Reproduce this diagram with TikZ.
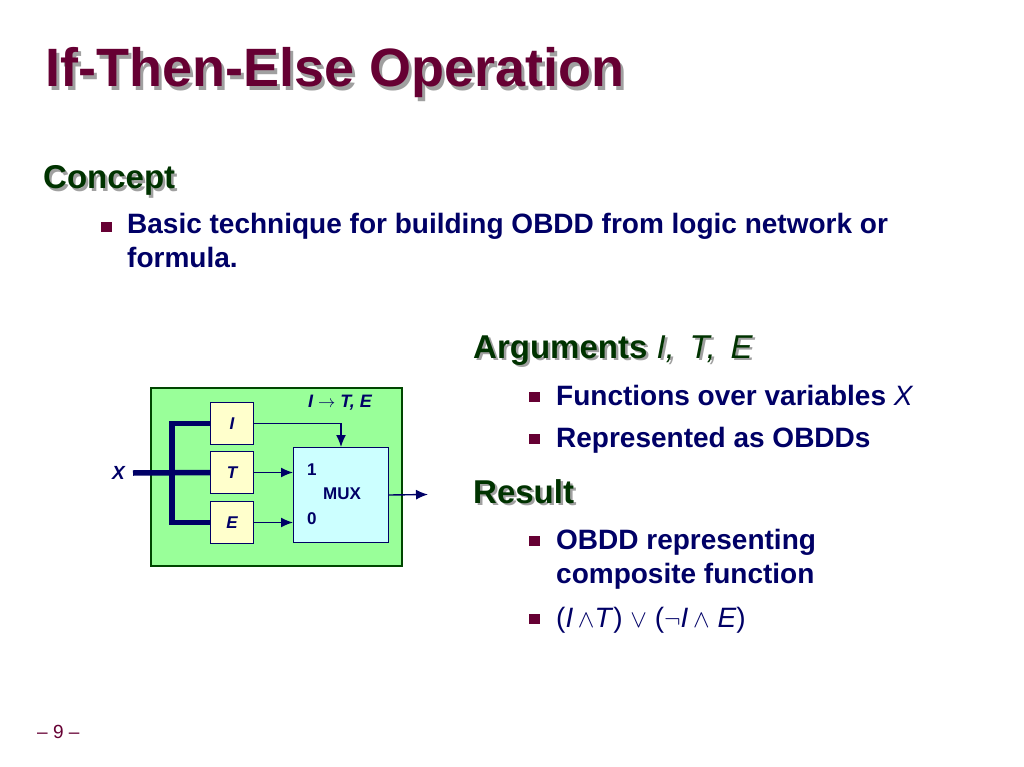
\documentclass[tikz,border=0pt]{standalone}
\usepackage{fontspec}
\setmainfont{Liberation Sans}
\usetikzlibrary{arrows.meta}

\definecolor{titlered}{RGB}{102,0,51}
\definecolor{headgreen}{RGB}{0,51,0}
\definecolor{shadowgray}{RGB}{160,160,160}
\definecolor{navy}{RGB}{0,0,102}
\definecolor{boxgreen}{RGB}{153,255,153}
\definecolor{framegreen}{RGB}{0,70,0}
\definecolor{argyellow}{RGB}{255,255,204}
\definecolor{muxcyan}{RGB}{204,255,255}

% heading with a grey drop shadow: x, y, offset, name, style, text
\newcommand{\shadowhead}[6]{
	\node[#5, text=shadowgray] (#4-s) at ({#1+#3},{#2+#3}) {#6};
	\node[#5] (#4) at (#1,#2) {#6};
}

\begin{document}
\begin{tikzpicture}[x=1pt, y=-1pt,
	txt/.style={anchor=base west, inner sep=0pt, align=left},
	title/.style={txt, text=titlered, font=\fontsize{54}{60}\selectfont\bfseries},
	head/.style={txt, text=headgreen, font=\fontsize{33}{38}\selectfont\bfseries},
	body/.style={txt, text=navy, font=\fontsize{28}{34}\selectfont\bfseries},
	bullet/.style={fill=titlered, minimum width=11pt, minimum height=10pt, inner sep=0pt},
	frame/.style={draw=framegreen, line width=1.5pt, fill=boxgreen, anchor=north west,
		minimum width=251pt, minimum height=178pt, inner sep=0pt},
	argbox/.style={draw=navy, line width=1pt, fill=argyellow, anchor=north west,
		minimum width=43pt, minimum height=42pt, inner sep=0pt, text=navy,
		font=\fontsize{17}{17}\selectfont\bfseries\itshape},
	muxbox/.style={draw=navy, line width=1pt, fill=muxcyan, anchor=north west,
		minimum width=95pt, minimum height=95pt, inner sep=0pt},
	lbl/.style={inner sep=0pt, text=navy, font=\fontsize{17}{17}\selectfont\bfseries},
	bus/.style={navy, line width=5.5pt},
	wire/.style={navy, line width=1.4pt, -{Latex[length=12pt, width=10pt]}}]
	\useasboundingbox (0,0) rectangle (1024,767);

	% title and concept
	\shadowhead{45}{87}{3.5}{title}{title}{If-Then-Else Operation}
	\shadowhead{43}{189}{2.5}{concept}{head}{Concept}
	\node[bullet] (b1) at (106.5,227.5) {};
	\node[body] (t1) at (127,267) {Basic technique for building OBDD from logic network or\\formula.};

	% arguments and result
	\shadowhead{473}{358}{2.5}{args}{head}{Arguments {\mdseries\itshape I,\, T,\, E}}
	\node[bullet] (b2) at (534,397) {};
	\node[body] (t2) at (556,405) {Functions over variables {\mdseries\itshape X}};
	\node[bullet] (b3) at (534,439) {};
	\node[body] (t3) at (556,447) {Represented as OBDDs};
	\shadowhead{473}{503}{2.5}{result}{head}{Result}
	\node[bullet] (b4) at (534,541) {};
	\node[body] (t4) at (556,583) {OBDD representing\\composite function};
	\node[bullet] (b5) at (534,619) {};
	\node[body, font=\fontsize{28}{34}\selectfont] (t5) at (556,627)
		{(\textit{I}\,$\wedge$\textit{T}) $\vee$ ($\neg$\textit{I}\,$\wedge$ \textit{E})};

	% multiplexer picture
	\node[frame] (frame) at (150,387) {};
	\node[argbox] (I) at (210,402) {I};
	\node[argbox] (T) at (210,451) {T};
	\node[argbox] (E) at (210,501) {E};
	\node[muxbox] (mux) at (293,447) {};
	\node[lbl, anchor=west] (one) at (307,470) {1};
	\node[lbl] (muxname) at (342,494) {MUX};
	\node[lbl, anchor=west] (zero) at (307,519) {0};
	\node[lbl, font=\fontsize{18}{18}\selectfont\bfseries\itshape] (ite) at (340,403) {I $\rightarrow$ T, E};
	\node[lbl, anchor=east, font=\fontsize{19}{19}\selectfont\bfseries\itshape] (xlab) at (125,473) {X};
	\coordinate (xin) at (133,473);
	\coordinate (bx) at (172,0);
	\coordinate (out) at (428,494.5);

	\draw[bus] (I.west) -- (I.west -| bx) -- (E.west -| bx) -- (E.west);
	\draw[bus] (xin) -- (T.west);
	\draw[wire] (I.east) -| (mux.north);
	\draw[wire] (T.east) -- (T.east -| mux.west);
	\draw[wire] (E.east) -- (E.east -| mux.west);
	\draw[wire] (mux.east) -- (out);

	% page number
	\node[txt, text=titlered, font=\fontsize{19}{19}\selectfont] (page) at (37,738) {-- 9 --};
\end{tikzpicture}
\end{document}
